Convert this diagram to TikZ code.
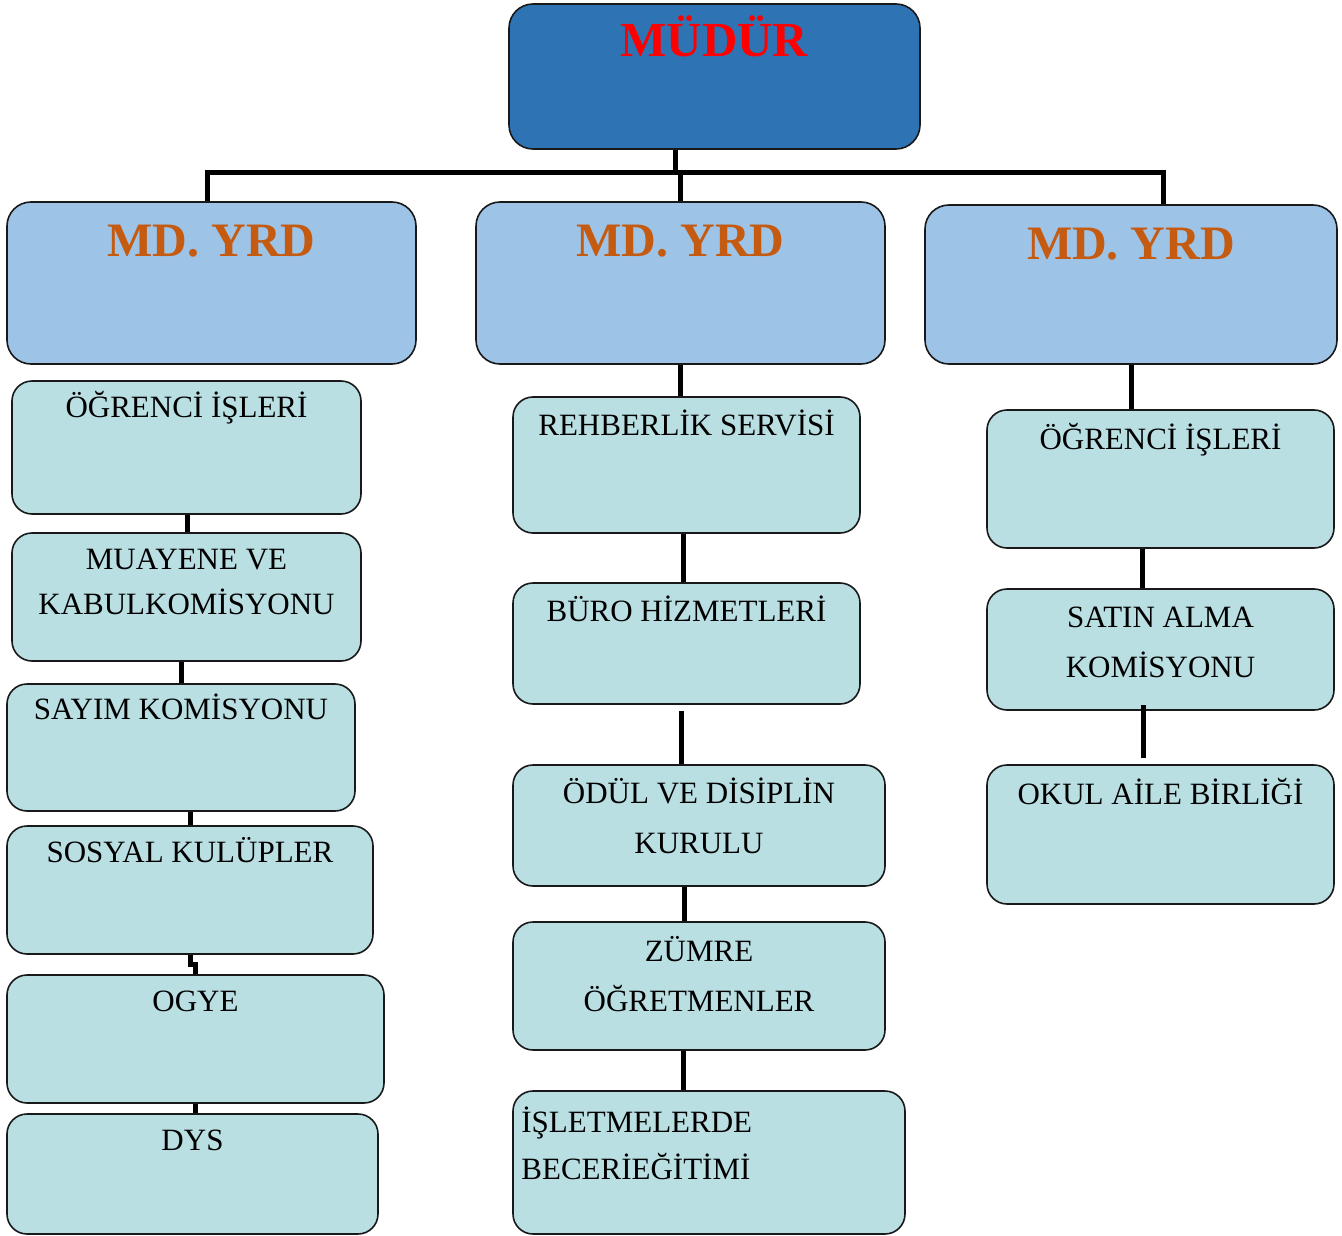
\documentclass[tikz,border=0pt]{standalone}
\usepackage{fontspec}
\setmainfont{Liberation Serif}
\usetikzlibrary{fit,calc}
\definecolor{topblue}{RGB}{46,116,181}
\definecolor{yrdblue}{RGB}{157,195,230}
\definecolor{childfill}{RGB}{185,223,227}
\definecolor{yrdorange}{RGB}{197,90,17}
\newcommand\twolines[2]{\vtop{\halign{\hfil##\hfil\cr #1\cr #2\cr}}}
\newcommand\twolinesL[2]{\vtop{\halign{##\hfil\cr #1\cr #2\cr}}}
\tikzset{
  boxbase/.style={draw=black!90, line width=1.6pt, inner sep=0pt, rectangle},
  topbox/.style={boxbase, fill=topblue, rounded corners=24pt},
  yrdbox/.style={boxbase, fill=yrdblue, rounded corners=24pt},
  childbox/.style={boxbase, fill=childfill, rounded corners=20pt},
  toptxt/.style={anchor=base, inner sep=0pt, text=red, font=\fontsize{49}{56}\selectfont\bfseries},
  yrdtxt/.style={anchor=base, inner sep=0pt, text=yrdorange, font=\fontsize{48}{56}\selectfont\bfseries},
  ctxt/.style={anchor=base, inner sep=0pt, text=black, font=\fontsize{31}{50}\selectfont},
  conn/.style={line width=5pt, draw=black}
}
\begin{document}
\begin{tikzpicture}[x=1pt,y=-1pt]
\useasboundingbox (0,0) rectangle (1342,1236);
% top
\node[topbox, fit={(509,4) (920,149)}] (mudur) {};
\node[toptxt] at ([yshift=-53pt]mudur.north) {MÜDÜR};
% deputies
\node[yrdbox, fit={(7,202) (416,364)}] (yrd1) {};
\node[yrdbox, fit={(476,202) (885,364)}] (yrd2) {};
\node[yrdbox, fit={(925,205) (1337,364)}] (yrd3) {};
\node[yrdtxt] at ([yshift=-55pt]yrd1.north) {MD. YRD};
\node[yrdtxt] at ([yshift=-55pt]yrd2.north) {MD. YRD};
\node[yrdtxt] at ([yshift=-55pt]yrd3.north) {MD. YRD};
% left column
\node[childbox, fit={(12,381) (361,514)}] (l1) {};
\node[childbox, fit={(12,533) (361,661)}] (l2) {};
\node[childbox, fit={(7,684) (355,811)}] (l3) {};
\node[childbox, fit={(7,826) (373,954)}] (l4) {};
\node[childbox, fit={(7,975) (384,1103)}] (l5) {};
\node[childbox, fit={(7,1114) (378,1234)}] (l6) {};
\node[ctxt] at ([yshift=-37pt]l1.north) {ÖĞRENCİ İŞLERİ};
\node[ctxt, font=\fontsize{31}{45}\selectfont] at ([yshift=-37pt]l2.north) {\twolines{MUAYENE VE}{KABULKOMİSYONU}};
\node[ctxt] at ([yshift=-36pt]l3.north) {SAYIM KOMİSYONU};
\node[ctxt] at ([yshift=-37pt]l4.north) {SOSYAL KULÜPLER};
\node[ctxt] at ([yshift=-37pt]l5.north) {OGYE};
\node[ctxt] at ([yshift=-37pt]l6.north) {DYS};
% middle column
\node[childbox, fit={(513,397) (860,533)}] (m1) {};
\node[childbox, fit={(513,583) (860,704)}] (m2) {};
\node[childbox, fit={(513,765) (885,886)}] (m3) {};
\node[childbox, fit={(513,922) (885,1050)}] (m4) {};
\node[childbox, fit={(513,1091) (905,1234)}] (m5) {};
\node[ctxt] at ([yshift=-39pt]m1.north) {REHBERLİK SERVİSİ};
\node[ctxt] at ([yshift=-39pt]m2.north) {BÜRO HİZMETLERİ};
\node[ctxt] at ([yshift=-39pt]m3.north) {\twolines{ÖDÜL VE DİSİPLİN}{KURULU}};
\node[ctxt] at ([yshift=-40pt]m4.north) {\twolines{ZÜMRE}{ÖĞRETMENLER}};
\node[ctxt, font=\fontsize{31}{47}\selectfont, anchor=base west] at ([xshift=9pt,yshift=-42pt]m5.north west) {\twolinesL{İŞLETMELERDE}{BECERİEĞİTİMİ}};
% right column
\node[childbox, fit={(987,410) (1334,548)}] (r1) {};
\node[childbox, fit={(987,589) (1334,710)}] (r2) {};
\node[childbox, fit={(987,765) (1334,904)}] (r3) {};
\node[ctxt] at ([yshift=-40pt]r1.north) {ÖĞRENCİ İŞLERİ};
\node[ctxt] at ([yshift=-39pt]r2.north) {\twolines{SATIN ALMA}{KOMİSYONU}};
\node[ctxt] at ([yshift=-40pt]r3.north) {OKUL AİLE BİRLİĞİ};
% connectors: top tree
\coordinate (busL) at (207,173);
\coordinate (busR) at (1163,173);
\coordinate (busM) at (680,173);
\draw[conn] (mudur.south -| 675,0) -- (675,173);
\draw[conn] (yrd1.north -| busL) -- (busL) -- (busR) -- (yrd3.north -| busR);
\draw[conn] (busM) -- (yrd2.north -| busM);
% left column
\draw[conn] (l1.south -| 187,0) -- (l2.north -| 187,0);
\draw[conn] (l2.south -| 181,0) -- (l3.north -| 181,0);
\draw[conn] (l3.south -| 190,0) -- (l4.north -| 190,0);
\draw[conn] (l4.south -| 190,0) -- (190,964) -- (195,964) -- (l5.north -| 195,0);
\draw[conn] (l5.south -| 195,0) -- (l6.north -| 195,0);
% middle column
\draw[conn] (yrd2.south -| 680,0) -- (m1.north -| 680,0);
\draw[conn] (m1.south -| 683,0) -- (m2.north -| 683,0);
\coordinate (m23) at (681,711);
\draw[conn] (m23) -- (m3.north -| m23);
\draw[conn] (m3.south -| 684,0) -- (m4.north -| 684,0);
\draw[conn] (m4.south -| 683,0) -- (m5.north -| 683,0);
% right column
\draw[conn] (yrd3.south -| 1131,0) -- (r1.north -| 1131,0);
\draw[conn] (r1.south -| 1142,0) -- (r2.north -| 1142,0);
\coordinate (r23a) at (1143,705);
\coordinate (r23b) at (1143,758);
\draw[conn] (r23a) -- (r23b);
\end{tikzpicture}
\end{document}
